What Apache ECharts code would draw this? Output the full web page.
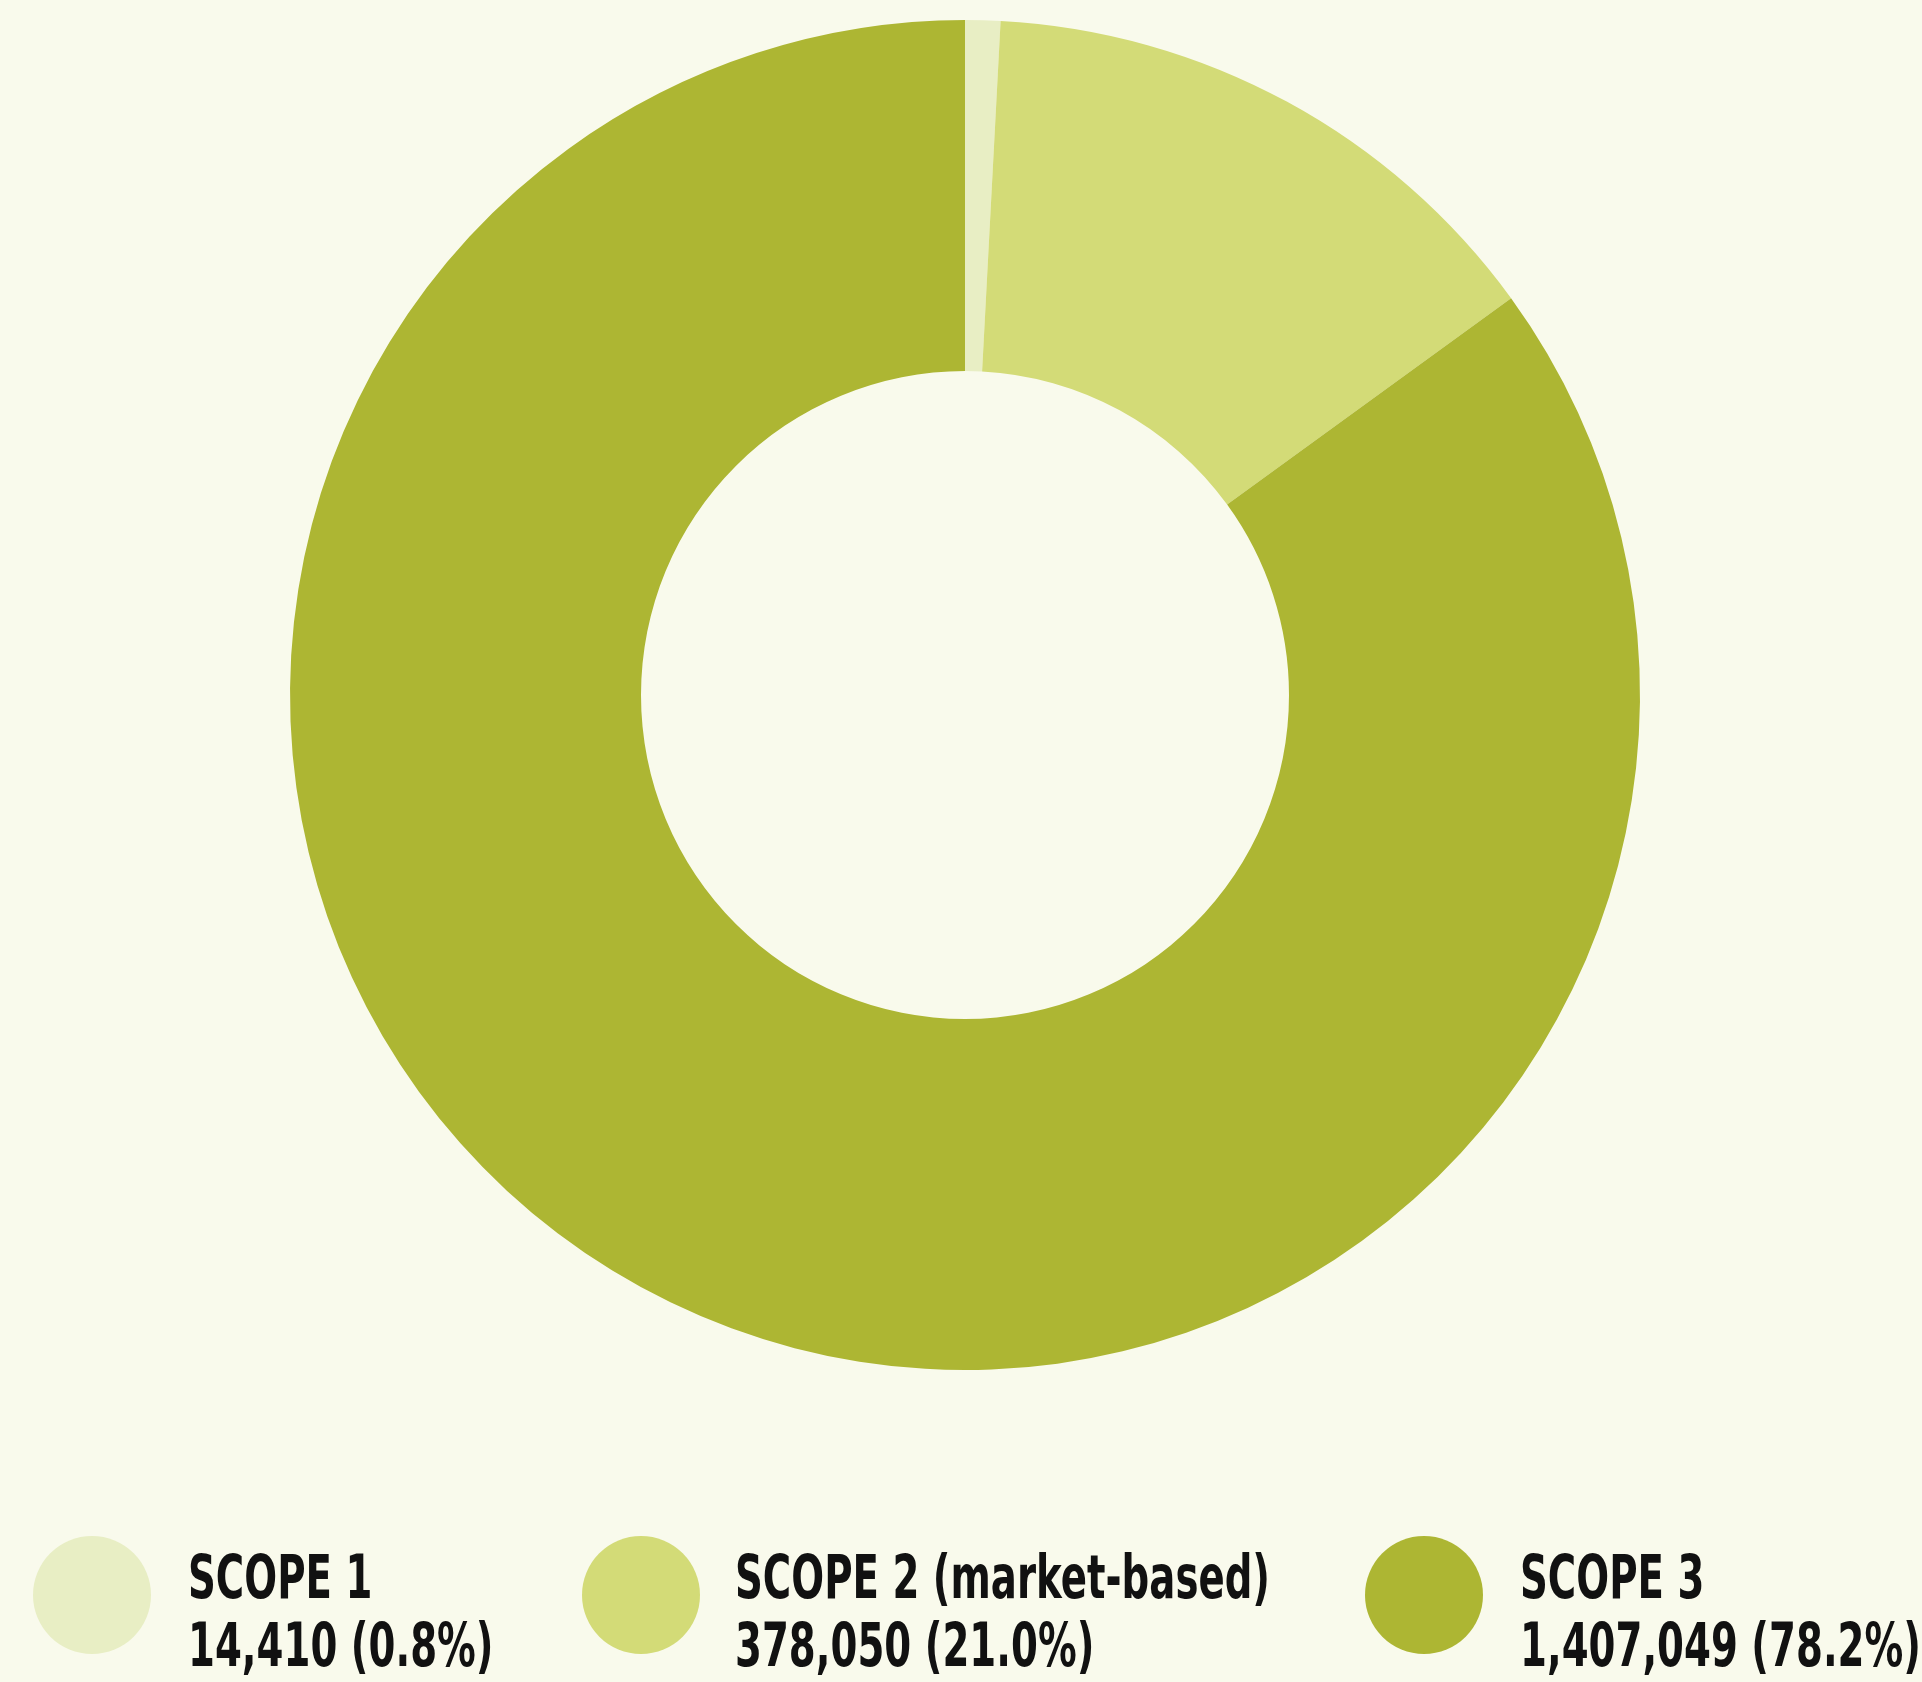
<!DOCTYPE html>
<html><head><meta charset="utf-8">
<script src="https://cdn.jsdelivr.net/npm/echarts@6/dist/echarts.min.js"></script>
<style>html,body{margin:0;padding:0;background:#F9FAEC;}#c{width:1922px;height:1682px;}</style>
</head><body><div id="c"></div>
<script>
// Categories and legend texts as printed
const categories = ['SCOPE 1', 'SCOPE 2 (market-based)', 'SCOPE 3'];
const amountLabels = ['14,410', '378,050', '1,407,049'];
const shareLabels = ['0.8%', '21.0%', '78.2%'];
// Slice sizes as drawn in the picture (share of the ring, %)
const drawnShares = [0.84, 14.16, 85.0];
const colors = ['#E8EEC4', '#D3DB77', '#ADB633'];

const chart = echarts.init(document.getElementById('c'), null, {renderer: 'canvas'});
const FONT = '"DejaVu Sans", sans-serif';
const legendLefts = [33, 582, 1365];
const textLefts = [188, 735, 1520];

const legends = categories.map((name, i) => ({
  data: [name],
  left: legendLefts[i],
  top: 1536,
  padding: 0,
  orient: 'horizontal',
  icon: 'circle',
  itemWidth: 118,
  itemHeight: 118,
  selectedMode: false,
  formatter: () => '',
  textStyle: {fontSize: 1}
}));

const texts = [];
categories.forEach((name, i) => {
  const lines = [name, amountLabels[i] + ' (' + shareLabels[i] + ')'];
  lines.forEach((t, j) => {
    texts.push({
      type: 'text',
      x: textLefts[i],
      y: 1582 + j * 68,
      scaleX: 0.645,
      silent: true,
      style: {
        text: t,
        font: 'bold 60px ' + FONT,
        fill: '#111111',
        textAlign: 'left',
        textVerticalAlign: 'middle'
      }
    });
  });
});

chart.setOption({
  backgroundColor: '#F9FAEC',
  animation: false,
  legend: legends,
  graphic: texts,
  series: [{
    type: 'pie',
    center: [965, 695],
    radius: [324, 675],
    startAngle: 90,
    clockwise: true,
    label: {show: false},
    labelLine: {show: false},
    emphasis: {disabled: true},
    itemStyle: {borderWidth: 0},
    data: categories.map((name, i) => ({name, value: drawnShares[i], itemStyle: {color: colors[i]}}))
  }]
});
</script></body></html>
